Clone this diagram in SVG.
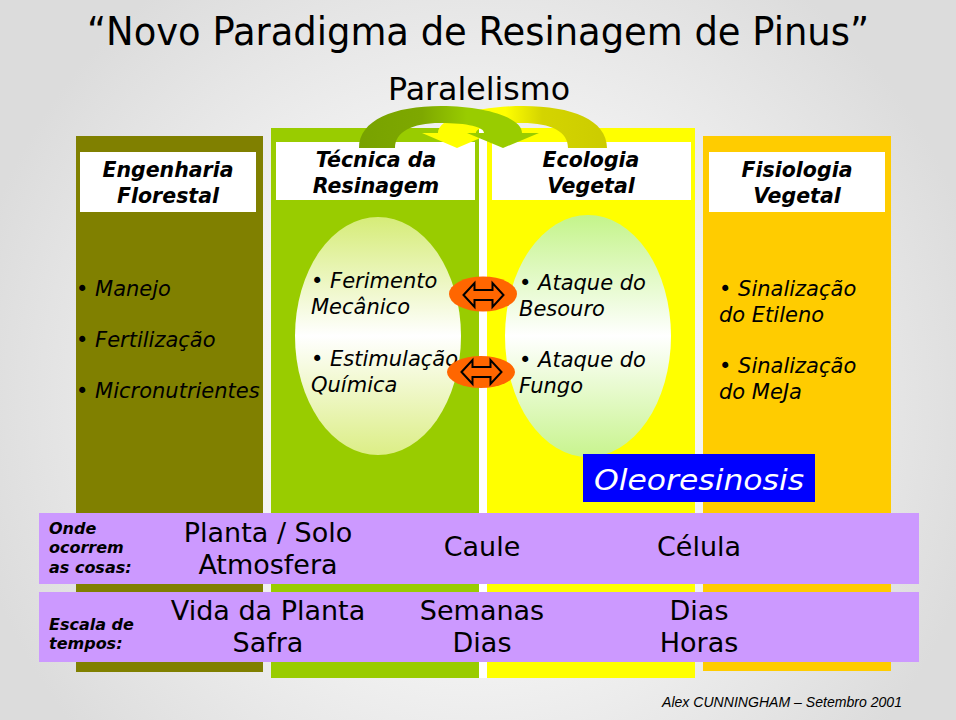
<svg xmlns="http://www.w3.org/2000/svg" width="956" height="720" viewBox="0 0 956 720">
<defs>
<radialGradient id="bg" gradientUnits="userSpaceOnUse" cx="478" cy="400" r="520">
<stop offset="0" stop-color="#ffffff"/>
<stop offset="0.45" stop-color="#f4f4f4"/>
<stop offset="1" stop-color="#dcdcdc"/>
</radialGradient>
<linearGradient id="ellL" x1="0" y1="0" x2="0" y2="1">
<stop offset="0" stop-color="#d6ec78"/>
<stop offset="0.5" stop-color="#ffffff"/>
<stop offset="1" stop-color="#dcee86"/>
</linearGradient>
<linearGradient id="ellR" x1="0" y1="0" x2="0" y2="1">
<stop offset="0" stop-color="#c4f48a"/>
<stop offset="0.5" stop-color="#ffffff"/>
<stop offset="1" stop-color="#c8f48e"/>
</linearGradient>
<linearGradient id="arrG" x1="0" y1="0" x2="1" y2="0">
<stop offset="0" stop-color="#78a200"/>
<stop offset="0.35" stop-color="#7ea800"/>
<stop offset="0.6" stop-color="#99cc00"/>
<stop offset="1" stop-color="#99cc00"/>
</linearGradient>
<linearGradient id="arrY" x1="0" y1="0" x2="1" y2="0">
<stop offset="0" stop-color="#ffff00"/>
<stop offset="0.45" stop-color="#ffff00"/>
<stop offset="0.65" stop-color="#d4d400"/>
<stop offset="1" stop-color="#cccc00"/>
</linearGradient>
<path id="dbl" d="M-20,0 L-9,-12 L-9,-5 L9,-5 L9,-12 L20,0 L9,12 L9,5 L-9,5 L-9,12 Z"/>
</defs>
<style>
.hdr{font-family:"DejaVu Sans",Verdana,sans-serif;font-weight:bold;font-style:italic;font-size:20.5px;text-anchor:middle;fill:#000}
.item{font-family:"DejaVu Sans",Verdana,sans-serif;font-style:italic;font-size:21px;fill:#000}
.band{font-family:"DejaVu Sans",Verdana,sans-serif;font-size:27px;text-anchor:middle;fill:#000}
.lbl{font-family:"DejaVu Sans",Verdana,sans-serif;font-weight:bold;font-style:italic;font-size:16px;fill:#000}
.box{fill:#ffffff}
.oval{fill:#ff6600}
.dbl{fill:#ff6600;stroke:#000;stroke-width:2;stroke-linejoin:miter}
</style>
<rect x="0" y="0" width="956" height="720" fill="url(#bg)"/>
<text x="478" y="45" text-anchor="middle" font-family="'DejaVu Sans',Verdana,sans-serif" font-size="39" textLength="782" lengthAdjust="spacingAndGlyphs">“Novo Paradigma de Resinagem de Pinus”</text>
<text x="479" y="100" text-anchor="middle" font-family="'DejaVu Sans',Verdana,sans-serif" font-size="32" textLength="182" lengthAdjust="spacingAndGlyphs">Paralelismo</text>

<g id="col-engenharia">
<rect x="76" y="136" width="187" height="536" fill="#808000"/>
<rect class="box" x="80" y="152" width="176" height="60"/>
<text class="hdr" x="168" y="177">Engenharia</text>
<text class="hdr" x="168" y="203">Florestal</text>
<text class="item" x="76" y="296">• Manejo</text>
<text class="item" x="76" y="347">• Fertilização</text>
<text class="item" x="76" y="398">• Micronutrientes</text>
</g>

<g id="col-tecnica">
<rect x="271" y="128" width="208" height="550" fill="#99cc00"/>
<rect x="479" y="128" width="8" height="550" fill="#ffffff"/>
<rect class="box" x="276" y="142" width="199" height="58"/>
<text class="hdr" x="376" y="167">Técnica  da</text>
<text class="hdr" x="376" y="193">Resinagem</text>
<ellipse cx="378" cy="336" rx="83" ry="119" fill="url(#ellL)"/>
<text class="item" x="311" y="288">• Ferimento</text>
<text class="item" x="311" y="314">Mecânico</text>
<text class="item" x="311" y="366">• Estimulação</text>
<text class="item" x="311" y="392">Química</text>
</g>

<g id="col-ecologia">
<rect x="487" y="128" width="208" height="550" fill="#ffff00"/>
<rect class="box" x="492" y="142" width="199" height="58"/>
<text class="hdr" x="591" y="167">Ecologia</text>
<text class="hdr" x="591" y="193">Vegetal</text>
<ellipse cx="588" cy="336" rx="83" ry="121" fill="url(#ellR)"/>
<text class="item" x="519" y="290">• Ataque  do</text>
<text class="item" x="519" y="316">Besouro</text>
<text class="item" x="519" y="367">• Ataque  do</text>
<text class="item" x="519" y="393">Fungo</text>
</g>

<g id="col-fisiologia">
<rect x="703" y="136" width="188" height="535" fill="#ffcc00"/>
<rect class="box" x="709" y="152" width="176" height="60"/>
<text class="hdr" x="797" y="177">Fisiologia</text>
<text class="hdr" x="797" y="203">Vegetal</text>
<text class="item" x="719" y="296">• Sinalização</text>
<text class="item" x="719" y="322">do Etileno</text>
<text class="item" x="719" y="373">• Sinalização</text>
<text class="item" x="719" y="399">do MeJa</text>
</g>

<g id="oleoresinosis">
<rect x="583" y="454" width="232" height="48" fill="#0000ff"/>
<text x="699" y="490" text-anchor="middle" font-family="'DejaVu Sans',Verdana,sans-serif" font-style="italic" font-size="29" fill="#ffffff" textLength="210" lengthAdjust="spacingAndGlyphs">Oleoresinosis</text>
</g>

<g id="band-onde">
<rect x="39" y="513" width="880" height="71" fill="#cc99ff"/>
<text class="lbl" x="49" y="534">Onde</text>
<text class="lbl" x="49" y="553">ocorrem</text>
<text class="lbl" x="49" y="573">as cosas:</text>
<text class="band" x="268" y="542">Planta / Solo</text>
<text class="band" x="268" y="574">Atmosfera</text>
<text class="band" x="482" y="556">Caule</text>
<text class="band" x="699" y="556">Célula</text>
</g>

<g id="band-escala">
<rect x="39" y="592" width="880" height="70" fill="#cc99ff"/>
<text class="lbl" x="49" y="630">Escala  de</text>
<text class="lbl" x="49" y="649">tempos:</text>
<text class="band" x="268" y="620">Vida da Planta</text>
<text class="band" x="268" y="652">Safra</text>
<text class="band" x="482" y="620">Semanas</text>
<text class="band" x="482" y="652">Dias</text>
<text class="band" x="699" y="620">Dias</text>
<text class="band" x="699" y="652">Horas</text>
</g>

<g id="connectors">
<path d="M607,148 C607,120 572,106 523,106 C478,106 438,118 438,133 L422,133 L457,148 L492,133 L476,133 C476,127 494,123 522,123 C552,123 568,132 568,148 Z" fill="url(#arrY)"/>
<path d="M359,148 C359,120 394,106 441,106 C486,106 522,118 522,133 L539,133 L503,148 L467,133 L484,133 C484,127 468,123 440,123 C412,123 395,132 395,148 Z" fill="url(#arrG)"/>
<ellipse class="oval" cx="483" cy="294" rx="34" ry="17.5"/>
<use href="#dbl" class="dbl" transform="translate(483.5,295)"/>
<ellipse class="oval" cx="481" cy="372" rx="34" ry="16"/>
<use href="#dbl" class="dbl" transform="translate(481.5,372)"/>
</g>

<text x="902" y="707" text-anchor="end" font-family="'Liberation Sans',Arial,sans-serif" font-style="italic" font-size="14" textLength="240" lengthAdjust="spacingAndGlyphs">Alex CUNNINGHAM  – Setembro 2001</text>
</svg>
